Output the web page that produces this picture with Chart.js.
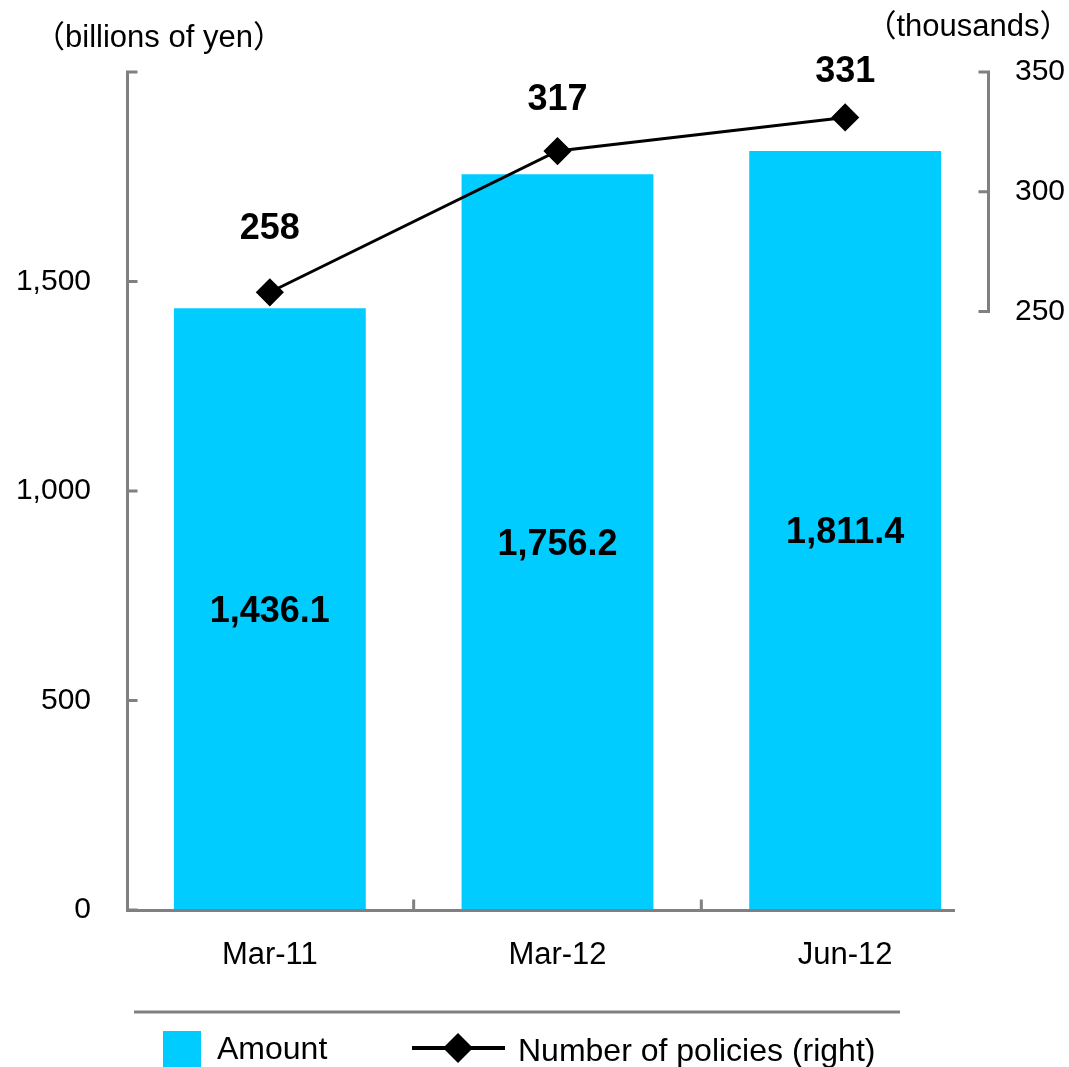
<!DOCTYPE html>
<html>
<head>
<meta charset="utf-8">
<script src="https://cdn.jsdelivr.net/npm/chart.js@4.4.1/dist/chart.umd.min.js"></script>
<style>
  html, body { margin: 0; padding: 0; background: #fff; }
  canvas { display: block; }
</style>
</head>
<body>
<canvas id="myChart" width="1069" height="1067"></canvas>
<script>
const categories = ["Mar-11", "Mar-12", "Jun-12"];
const amountValues = [1436.1, 1756.2, 1811.4];
const policyValues = [258, 317, 331];
const leftTicks = [0, 500, 1000, 1500, 2000];
const rightTicks = [250, 300, 350];

const FONT = '"Liberation Sans", Arial, "Noto Sans CJK JP", sans-serif';
const AXIS_GREY = "#808080";
const BAR_BLUE = "#00ccff";

Chart.defaults.font.family = FONT;
Chart.defaults.color = "#000";

const fmt = v => v.toLocaleString("en-US", { minimumFractionDigits: 1, maximumFractionDigits: 1 });

// axes, labels, titles and legend drawn by hand
const decorations = {
  id: "decorations",
  afterDatasetsDraw(chart) {
    const ctx = chart.ctx;
    const area = chart.chartArea;
    const x = chart.scales.x, y = chart.scales.y, y1 = chart.scales.y1;
    const lineSet = chart.data.datasets[0], barSet = chart.data.datasets[1];
    ctx.save();
    ctx.strokeStyle = AXIS_GREY;
    ctx.lineWidth = 3;
    ctx.lineCap = "butt";

    // left axis
    const lx = area.left + 1.5;
    ctx.beginPath();
    ctx.moveTo(lx, y.getPixelForValue(2000) - 1.5);
    ctx.lineTo(lx, y.getPixelForValue(0));
    leftTicks.forEach(v => {
      const py = y.getPixelForValue(v);
      ctx.moveTo(lx, py);
      ctx.lineTo(lx + 10, py);
    });
    ctx.stroke();

    // bottom axis (stops short of the right axis, like the original)
    const by = y.getPixelForValue(0) + 0.5;
    const half = (x.getPixelForValue(1) - x.getPixelForValue(0)) / 2;
    ctx.beginPath();
    ctx.moveTo(area.left, by);
    ctx.lineTo(area.right - 34, by);
    for (let i = 0; i < categories.length - 1; i++) {
      const px = x.getPixelForValue(i) + half;
      ctx.moveTo(px, by);
      ctx.lineTo(px, by - 11);
    }
    ctx.stroke();

    // right axis, only over its labelled range
    const rx = area.right - 0.5;
    ctx.beginPath();
    ctx.moveTo(rx, y1.getPixelForValue(350) - 1.5);
    ctx.lineTo(rx, y1.getPixelForValue(250) + 1.5);
    rightTicks.forEach(v => {
      const py = y1.getPixelForValue(v);
      ctx.moveTo(rx, py);
      ctx.lineTo(rx - 10, py);
    });
    ctx.stroke();

    // value labels
    ctx.fillStyle = "#000";
    ctx.textAlign = "center";
    ctx.textBaseline = "middle";
    ctx.font = "bold 36px " + FONT;
    chart.getDatasetMeta(1).data.forEach((bar, i) => {
      ctx.fillText(fmt(amountValues[i]), bar.x, (bar.y + bar.base) / 2 + 3);
    });
    const lift = [63, 51, 45];
    chart.getDatasetMeta(0).data.forEach((pt, i) => {
      ctx.fillText(String(policyValues[i]), pt.x, pt.y - lift[i]);
    });

    // unit titles
    ctx.font = "31px " + FONT;
    ctx.fillText("（billions of yen）", 159, 38);
    ctx.fillText("（thousands）", 968, 27);

    // legend
    ctx.beginPath();
    ctx.moveTo(134, 1012);
    ctx.lineTo(900, 1012);
    ctx.stroke();

    ctx.fillStyle = BAR_BLUE;
    ctx.fillRect(163, 1031, 38, 38);
    ctx.fillStyle = "#000";
    ctx.textAlign = "left";
    ctx.font = "32px " + FONT;
    ctx.fillText(barSet.label, 217, 1050);

    ctx.strokeStyle = "#000";
    ctx.lineWidth = 4;
    ctx.beginPath();
    ctx.moveTo(412, 1048);
    ctx.lineTo(505, 1048);
    ctx.stroke();
    ctx.beginPath();
    ctx.moveTo(458 - 15, 1048);
    ctx.lineTo(458, 1048 - 15);
    ctx.lineTo(458 + 15, 1048);
    ctx.lineTo(458, 1048 + 15);
    ctx.closePath();
    ctx.fill();
    ctx.fillText(lineSet.label, 518, 1052);
    ctx.restore();
  }
};

new Chart(document.getElementById("myChart"), {
  data: {
    labels: categories,
    datasets: [
      {
        type: "line",
        label: "Number of policies (right)",
        data: policyValues,
        yAxisID: "y1",
        borderColor: "#000",
        borderWidth: 3,
        pointStyle: "rectRot",
        pointRadius: 12,
        pointBorderWidth: 3,
        pointBackgroundColor: "#000",
        pointBorderColor: "#000",
        order: 0
      },
      {
        type: "bar",
        label: "Amount",
        data: amountValues,
        yAxisID: "y",
        backgroundColor: BAR_BLUE,
        barPercentage: 0.667,
        categoryPercentage: 1,
        order: 1
      }
    ]
  },
  options: {
    responsive: false,
    animation: false,
    layout: { padding: { top: 72, left: 0, right: 0, bottom: 0 } },
    plugins: {
      legend: { display: false },
      tooltip: { enabled: false }
    },
    scales: {
      x: {
        grid: { display: false, drawTicks: false },
        border: { display: false },
        ticks: { font: { size: 31 }, padding: 27, maxRotation: 0 },
        afterFit: s => { s.height = 157; }
      },
      y: {
        position: "left",
        min: 0,
        max: 2000,
        afterBuildTicks: s => { s.ticks = leftTicks.map(v => ({ value: v })); },
        grid: { display: false, drawTicks: false },
        border: { display: false },
        ticks: {
          font: { size: 30 },
          padding: 35,
          callback: v => (v === 2000 ? "" : v.toLocaleString("en-US"))
        },
        afterFit: s => { s.width = 126; }
      },
      y1: {
        position: "right",
        min: 0,
        max: 350,
        afterBuildTicks: s => { s.ticks = rightTicks.map(v => ({ value: v })); },
        grid: { display: false, drawTicks: false },
        border: { display: false },
        ticks: { font: { size: 30 }, padding: 26 },
        afterFit: s => { s.width = 80; }
      }
    }
  },
  plugins: [decorations]
});
</script>
</body>
</html>
